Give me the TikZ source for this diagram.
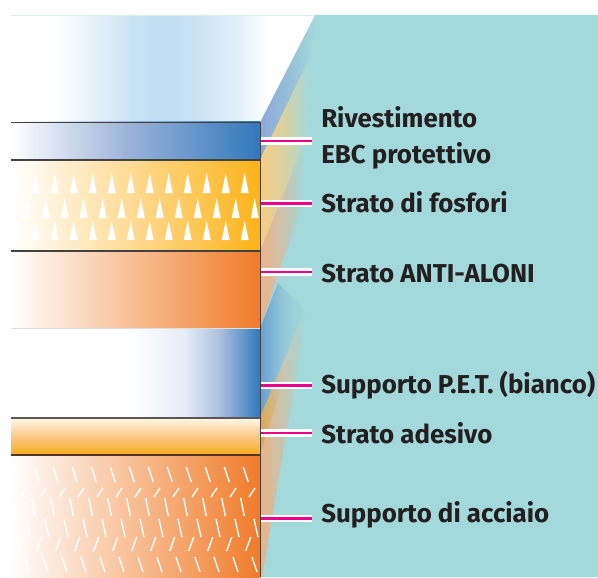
\documentclass[tikz,border=0pt]{standalone}
\usepackage{fontspec}
\setmainfont{Fira Sans}
\definecolor{teal0}{HTML}{A3D9DA}
\definecolor{blu}{HTML}{3079BD}
\definecolor{blum}{HTML}{9DB4DA}
\definecolor{skyb}{HTML}{BEDDF1}
\definecolor{yel}{HTML}{FDB318}
\definecolor{yelm}{HTML}{FFD98F}
\definecolor{ora}{HTML}{F07B2A}
\definecolor{oram}{HTML}{F8BD92}
\definecolor{pinkl}{HTML}{EC008C}
\definecolor{ink}{HTML}{231F20}
\definecolor{peta}{HTML}{E6ECF6}
\definecolor{petb}{HTML}{ABBFDF}
\definecolor{sideblu}{HTML}{8CA8D8}
\definecolor{sideyel}{HTML}{F8CC82}
\definecolor{sideora}{HTML}{EEB188}
\definecolor{sidepet}{HTML}{6A9FD0}
\definecolor{sideadh}{HTML}{E0A64E}
\definecolor{sidest}{HTML}{E9B287}
\pgfdeclarehorizontalshading{skyS}{100bp}{color(0bp)=(white);color(32bp)=(white);color(39.6bp)=(white!55!skyb);color(44.6bp)=(white!20!skyb);color(50bp)=(skyb);color(56bp)=(white!20!skyb);color(62.7bp)=(white!60!skyb);color(67.6bp)=(white);color(100bp)=(white)}
\pgfdeclarehorizontalshading{bluS}{100bp}{color(0bp)=(white);color(25bp)=(white);color(48bp)=(blum);color(75bp)=(blu);color(100bp)=(blu)}
\pgfdeclarehorizontalshading{yelS}{100bp}{color(0bp)=(white);color(25bp)=(white);color(50bp)=(yelm);color(75bp)=(yel);color(100bp)=(yel)}
\pgfdeclarehorizontalshading{oraS}{100bp}{color(0bp)=(white);color(25bp)=(white);color(50bp)=(oram);color(75bp)=(ora);color(100bp)=(ora)}
\pgfdeclarehorizontalshading{petS}{100bp}{color(0bp)=(white);color(49bp)=(white);color(60bp)=(peta);color(67bp)=(petb);color(75bp)=(blu);color(100bp)=(blu)}
\pgfdeclareverticalshading{adhS}{100bp}{color(0bp)=(yel!85!ora);color(25bp)=(yel!85!ora);color(50bp)=(yelm!75!ora!90);color(75bp)=(white!90!yel);color(100bp)=(white!90!yel)}
\tikzset{
  x=0.75pt,y=-0.75pt,
  layerline/.style={line width=0.8pt,draw=ink!85},
  stripew/.style={draw=white,line width=5.8pt},
  stripep/.style={draw=pinkl,line width=1.9pt},
  lab/.style={anchor=west,inner sep=0pt,font=\bfseries\fontsize{19.4}{26.5}\selectfont,text=ink,align=left},
  tri/.style={fill=white},
  dsh/.style={draw=white,line width=1.05pt}
}
\begin{document}
\begin{tikzpicture}
\useasboundingbox (0,0) rectangle (598,577);
% teal ground
\fill[teal0] (315,15) -- (598,15) -- (598,577) -- (260,577) -- (260,122) -- cycle;
% side faces
\shade[left color=sideblu,right color=teal0,middle color=teal0!45!sideblu] (260,122) -- (315,15) -- (310,57) -- (260,160) -- cycle;
\shade[left color=sideyel,right color=teal0,middle color=teal0!40!sideyel] (260,160) -- (310,57) -- (305,143) -- (260,251) -- cycle;
\shade[left color=sideora,right color=teal0,middle color=teal0!45!sideora] (260,251) -- (305,143) -- (300,210) -- (260,328) -- cycle;
\shade[left color=sidepet,right color=teal0,middle color=teal0!70!sidepet] (260,328) -- (278,283) -- (305,310) -- (260,418) -- cycle;
\shade[left color=sideadh,right color=teal0,middle color=teal0!50!sideora] (260,418) -- (305,310) -- (300,345) -- (260,455) -- cycle;
\shade[left color=sidest,right color=teal0,middle color=teal0!50!sidest] (260,455) -- (305,312) -- (307,310) -- (262,577) -- (260,577) -- cycle;
% top sheet
\shade[shading=skyS] (11,15) -- (315,15) -- (260,122) -- (11,122) -- cycle;
\draw[teal0!40,line width=0.5pt] (11,15) -- (315,15);
% layers
\shade[shading=bluS] (11,122) rectangle (260,160);
\shade[shading=yelS] (11,160) rectangle (260,251);
\shade[shading=oraS] (11,251) rectangle (260,328);
\shade[shading=petS] (11,328) rectangle (260,418);
\shade[shading=adhS] (11,418) rectangle (260,455);
\shade[shading=oraS] (11,455) rectangle (260,577);
% phosphor grains
\foreach \k in {0,...,12}{
  \fill[tri] ({16.7+19*\k},173) -- ({20.7+19*\k},193) -- ({12.7+19*\k},193) -- cycle;
  \fill[tri] ({26.7+19*\k},198) -- ({30.7+19*\k},218) -- ({22.7+19*\k},218) -- cycle;
  \fill[tri] ({16.7+19*\k},221) -- ({20.7+19*\k},240) -- ({12.7+19*\k},240) -- cycle;
}
% steel grain
\foreach \k in {0,...,12}{
  \draw[dsh] ({15.3+19*\k},467) -- ({20.3+19*\k},482);
  \draw[dsh] ({27+19*\k},488) -- ({21+19*\k},497);
  \draw[dsh] ({12.7+19*\k},498) -- ({16.3+19*\k},516);
  \draw[dsh] ({26+19*\k},519) -- ({30+19*\k},537);
  \draw[dsh] ({22.7+19*\k},537) -- ({17.7+19*\k},551);
  \draw[dsh] ({24+19*\k},557) -- ({29+19*\k},572);
}
% layer lines
\draw[layerline] (11,122.5) -- (260.5,122.5);
\draw[layerline] (11,160) -- (260.5,160);
\draw[layerline] (11,251) -- (260.5,251);
\draw[gray!25,line width=0.5pt] (11,328) -- (260,328);
\draw[layerline,draw=ink!75] (11,418) -- (260.5,418);
\draw[layerline,draw=ink!75!ora] (11,455) -- (260.5,455);
\draw[layerline] (260.5,122) -- (260.5,577);
% labels
\node[lab] (l1) at (321,138) {Rivestimento\\EBC protettivo};
\node[lab] (l2) at (321,202.5) {Strato di fosfori};
\node[lab] (l3) at (321,274) {Strato ANTI-ALONI};
\node[lab] (l4) at (321,385) {Supporto P.E.T. (bianco)};
\node[lab] (l5) at (321,433.5) {Strato adesivo};
\node[lab] (l6) at (321,515) {Supporto di acciaio};
% leaders
\foreach \n/\yy in {a/141,b/203.5,c/272,d/385.5,e/433,f/518.5}{
  \coordinate (\n0) at (261,\yy);
  \coordinate (\n1) at (312,\yy);
  \draw[stripew] (\n0) -- (\n1);
  \draw[stripep] (\n0) -- (\n1);
}
\end{tikzpicture}
\end{document}
